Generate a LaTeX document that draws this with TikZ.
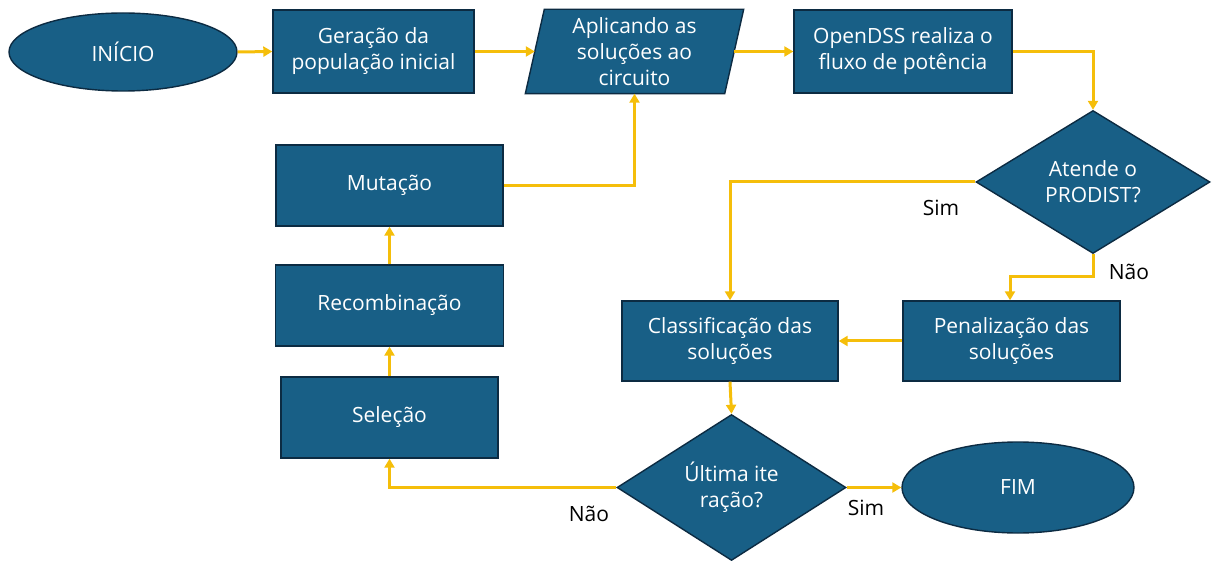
\documentclass[tikz,border=0pt]{standalone}
\usepackage{fontspec}
\setmainfont{Open Sans}
\usetikzlibrary{shapes.geometric,arrows.meta,calc,backgrounds}
\definecolor{bfill}{HTML}{185F86}
\definecolor{bdraw}{HTML}{0C2B42}
\definecolor{arrcol}{HTML}{F5BE0A}
\begin{document}
\begin{tikzpicture}[x=1pt,y=-1pt,
  base/.style={fill=bfill, draw=bdraw, line width=1.4pt, text=white,
    font=\fontsize{21}{26}\selectfont, align=center, inner sep=0pt},
  procbox/.style={base, rectangle},
  termbox/.style={base, ellipse},
  decbox/.style={base, diamond, aspect=1.6},
  lbl/.style={font=\fontsize{21}{26}\selectfont, text=black, inner sep=0pt},
  conn/.style={draw=arrcol, line width=3pt, -{Triangle[length=9pt,width=10pt]}}
]
\useasboundingbox (0,0) rectangle (1213,561);

\node[termbox, minimum width=228, minimum height=78] (ini) at (123,52) {INÍCIO};
\node[procbox, minimum width=201, minimum height=83] (ger) at (373.5,51.5) {Geração da\\população inicial};
\node[base, fill=none, draw=none, rectangle, minimum width=198, minimum height=83] (apl) at (634.5,51.5) {Aplicando as\\soluções ao\\circuito};
\begin{scope}[on background layer]
  \path[base] ($(apl.south west)+(-9.5,0)$) -- ($(apl.north west)+(9.5,0)$) --
    ($(apl.north east)+(9.5,0)$) -- ($(apl.south east)+(-9.5,0)$) -- cycle;
\end{scope}
\node[procbox, minimum width=218, minimum height=83] (odss) at (903,51.5) {OpenDSS realiza o\\fluxo de potência};
\node[decbox, minimum width=234, minimum height=143] (aten) at (1093,182) {Atende o\\PRODIST?};
\node[procbox, minimum width=227, minimum height=81] (mut) at (389.5,185.5) {Mutação};
\node[procbox, minimum width=228, minimum height=81] (rec) at (389.5,305.5) {Recombinação};
\node[procbox, minimum width=217, minimum height=81] (sel) at (389.5,417.5) {Seleção};
\node[procbox, minimum width=216, minimum height=80] (cla) at (730,341) {Classificação das\\soluções};
\node[procbox, minimum width=217, minimum height=80] (pen) at (1011.5,341) {Penalização das\\soluções};
\node[decbox, minimum width=229, minimum height=146] (ult) at (731.5,487.5) {Última ite\\ração?};
\node[termbox, minimum width=232, minimum height=91] (fim) at (1018,487.5) {FIM};

\node[lbl] (l1) at (941,208) {Sim};
\node[lbl] (l2) at (1129,272) {Não};
\node[lbl] (l3) at (866,508) {Sim};
\node[lbl] (l4) at (589,514) {Não};

\draw[conn] (ini.east) -- (ger.west);
\draw[conn] (ger.east) -- (apl.west);
\draw[conn] (apl.east) -- (odss.west);
\draw[conn] (odss.east) -| (aten.north);
\draw[conn] (aten.west) -| (cla.north);
\draw[conn] (aten.south) -- ($(aten.south)+(0,22)$) -| ([xshift=-1.5pt]pen.north);
\draw[conn] (pen.west) -- (cla.east);
\draw[conn] (cla.south) -- (ult.north);
\draw[conn] (ult.east) -- (fim.west);
\draw[conn] (ult.west) -| (sel.south);
\draw[conn] (sel.north) -- (rec.south);
\draw[conn] (rec.north) -- (mut.south);
\draw[conn] (mut.east) -| (apl.south);
\end{tikzpicture}
\end{document}
